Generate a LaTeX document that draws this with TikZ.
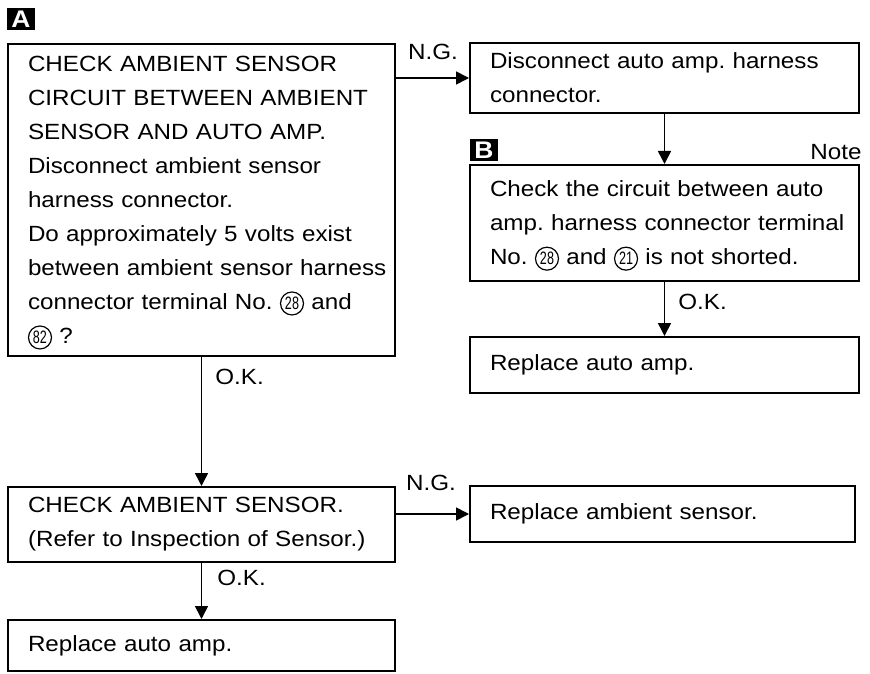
\documentclass[tikz,border=0pt]{standalone}
\usepackage{fontspec}
\usepackage{pict2e}
\setmainfont{Liberation Sans}[FakeStretch=1.1]
\newfontfamily\condfont{Liberation Sans}[FakeStretch=0.7]
\usetikzlibrary{arrows.meta}
\frenchspacing

% circled terminal numbers
\newcommand{\cnum}[1]{{\setlength{\unitlength}{1pt}\linethickness{0.6pt}%
  \begin{picture}(12,8)(0,0)
    \put(6,3.1){\circle{11.5}}
    \put(6,3.1){\makebox(0,0){\condfont\fontsize{9}{9}\selectfont #1}}
  \end{picture}}}

\begin{document}
\begin{tikzpicture}[x=0.5pt,y=-0.5pt,
  box/.style={draw, line width=1pt, rectangle, inner xsep=10pt, inner ysep=0pt, align=left, font=\fontsize{11}{17}\selectfont},
  flow/.style={-{Triangle[length=6.5pt,width=6.5pt]}, line width=0.8pt},
  lbl/.style={font=\fontsize{11}{13}\selectfont, inner sep=0pt},
  marker/.style={fill=black, text=white, font=\bfseries\fontsize{12}{12}\selectfont, minimum width=14pt, minimum height=11pt, inner sep=0pt}]
  \useasboundingbox (0,0) rectangle (870,673);

  % Step markers
  \node[marker] (markA) at (21,19) {A};
  \node[marker] (markB) at (484,150) {B};
  \node[lbl] (note) at (836,152) {Note};

  % Left column
  \node[box, text width=173.5pt, minimum height=156pt] (chkcirc) at (201.5,200) {CHECK AMBIENT SENSOR\\
    CIRCUIT BETWEEN AMBIENT\\
    SENSOR AND AUTO AMP.\\
    Disconnect ambient sensor\\
    harness connector.\\
    Do approximately 5 volts exist\\
    \mbox{between ambient sensor harness}\\
    \mbox{connector terminal No. \cnum{28} and}\\
    \cnum{82} ?};
  \node[box, text width=173.5pt, minimum height=37.5pt] (chksens) at (201.5,524.5) {CHECK AMBIENT SENSOR.\\
    (Refer to Inspection of Sensor.)};
  \node[box, text width=173.5pt, minimum height=25.5pt] (replamp2) at (201.5,645.5) {Replace auto amp.};

  % Right column
  \node[box, text width=174.5pt, minimum height=35pt] (discon) at (664.5,78) {Disconnect auto amp. harness\\
    connector.};
  \node[box, text width=174.5pt, minimum height=58pt] (chkshort) at (664.5,223) {Check the circuit between auto\\
    \mbox{amp. harness connector terminal}\\
    \mbox{No. \cnum{28} and \cnum{21} is not shorted.}};
  \node[box, text width=174.5pt, minimum height=28pt] (replamp1) at (664.5,365) {Replace auto amp.};
  \node[box, text width=172.5pt, minimum height=28pt] (replsens) at (662.5,514) {Replace ambient sensor.};

  % Connectors
  \draw[flow] (chkcirc.east |- discon.west) -- (discon.west);
  \draw[flow] (discon.south) -- (chkshort.north);
  \draw[flow] (chkshort.south) -- (replamp1.north);
  \draw[flow] (chkcirc.south) -- (chksens.north);
  \draw[flow] (chksens.east |- replsens.west) -- (replsens.west);
  \draw[flow] (chksens.south) -- (replamp2.north);

  % Branch labels
  \node[lbl] (ngA) at (433,52) {N.G.};
  \node[lbl] (ngB) at (431,483) {N.G.};
  \node[lbl, anchor=west] (okA) at (215,377) {O.K.};
  \node[lbl, anchor=west] (okB) at (678,302) {O.K.};
  \node[lbl, anchor=west] (okC) at (217,578) {O.K.};
\end{tikzpicture}
\end{document}
